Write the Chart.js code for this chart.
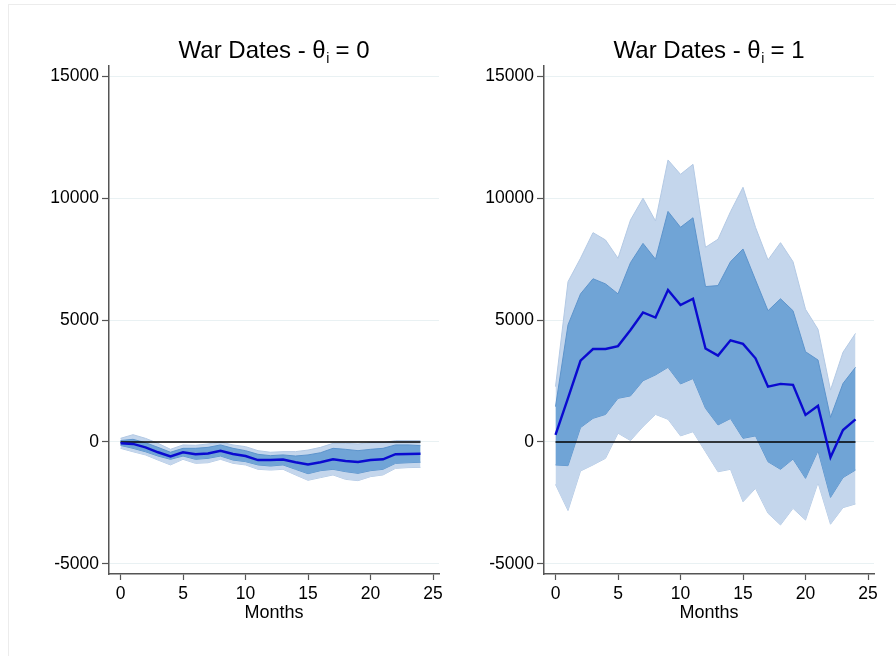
<!DOCTYPE html>
<html lang="en">
<head>
  <meta charset="UTF-8" />
  <title>War Dates</title>
  <script src="https://cdn.jsdelivr.net/npm/chart.js"></script>
  <style>
    body { margin: 0; background: #fff; width: 896px; height: 656px; overflow: hidden; position: relative; font-family: "Liberation Sans", Arial, sans-serif; }
    .frame { position: absolute; left: 8px; top: 4px; width: 900px; height: 660px; border-top: 1px solid #ececec; border-left: 1px solid #ececec; }
    canvas { position: absolute; top: 0; }
    #left { left: 0; }
    #right { left: 435px; }
  </style>
</head>
<body>
  <div class="frame"></div>
  <canvas id="left" width="448" height="656"></canvas>
  <canvas id="right" width="448" height="656"></canvas>

  <script>
    // months after the war date
    const months = [0, 1, 2, 3, 4, 5, 6, 7, 8, 9, 10, 11, 12, 13, 14, 15, 16, 17, 18, 19, 20, 21, 22, 23, 24];
    const xTicks = [0, 5, 10, 15, 20, 25];
    const yTicks = [-5000, 0, 5000, 10000, 15000];

    // theta_i = 0
    const mean0    = [-50, -80, -220, -420, -590, -420, -500, -470, -360, -490, -575, -740, -740, -720, -830, -920, -830, -710, -780, -820, -740, -710, -500, -490, -480];
    const innerHi0 = [60, 110, -30, -220, -420, -260, -260, -220, -120, -260, -355, -505, -560, -530, -575, -530, -440, -260, -300, -355, -300, -260, -120, -120, -150];
    const innerLo0 = [-140, -260, -400, -575, -710, -575, -710, -670, -575, -740, -805, -940, -985, -940, -1120, -1300, -1175, -1120, -1215, -1285, -1175, -1120, -875, -850, -830];
    const outerHi0 = [150, 300, 150, -55, -300, -120, -135, -80, 0, -120, -190, -355, -420, -395, -395, -330, -220, -55, -55, -80, -27, -27, 55, 55, 55];
    const outerLo0 = [-260, -400, -530, -740, -940, -710, -875, -850, -710, -875, -940, -1120, -1150, -1120, -1350, -1570, -1460, -1350, -1530, -1585, -1420, -1350, -1080, -1050, -1040];

    // theta_i = 1
    const mean1    = [290, 1800, 3330, 3810, 3810, 3930, 4590, 5310, 5100, 6230, 5610, 5870, 3830, 3540, 4170, 4020, 3430, 2270, 2380, 2340, 1110, 1480, -630, 490, 930];
    const innerHi1 = [1450, 4800, 6070, 6690, 6480, 6070, 7350, 8140, 7490, 9450, 8800, 9190, 6370, 6410, 7390, 7910, 6640, 5380, 5870, 5380, 3700, 3360, 1010, 2400, 3060];
    const innerLo1 = [-940, -970, 590, 970, 1130, 1790, 1890, 2510, 2750, 3060, 2380, 2600, 1380, 700, 960, 150, 250, -810, -1120, -700, -1490, -360, -2270, -1460, -1150];
    const outerHi1 = [2270, 6570, 7530, 8580, 8280, 7530, 9100, 9990, 9060, 11560, 10970, 11380, 7980, 8310, 9440, 10440, 8800, 7460, 8170, 7390, 5440, 4620, 2130, 3680, 4450];
    const outerLo1 = [-1740, -2810, -1190, -940, -670, 360, 60, 630, 1130, 930, 250, 420, -400, -1220, -1120, -2450, -1900, -2920, -3400, -2720, -3200, -1670, -3370, -2690, -2540];

    const FONT = "'Liberation Sans', Arial, sans-serif";
    Chart.defaults.font.family = FONT;
    Chart.defaults.color = "#000";

    const pts = arr => arr.map((v, i) => ({ x: months[i], y: v }));

    // title with a subscript i, drawn above the plot area
    const subTitle = {
      id: "subTitle",
      afterDraw(chart, args, opts) {
        const ctx = chart.ctx;
        const cx = (chart.chartArea.left + chart.chartArea.right) / 2;
        const y = 58;
        ctx.save();
        ctx.fillStyle = "#000";
        ctx.textBaseline = "alphabetic";
        ctx.font = "24px " + FONT;
        const w1 = ctx.measureText(opts.before).width;
        const w3 = ctx.measureText(opts.after).width;
        ctx.font = "14px " + FONT;
        const w2 = ctx.measureText(opts.sub).width;
        let x = cx - (w1 + w2 + w3) / 2;
        ctx.font = "24px " + FONT;
        ctx.fillText(opts.before, x, y);
        x += w1;
        ctx.font = "14px " + FONT;
        ctx.fillText(opts.sub, x + 0.5, y + 5);
        x += w2;
        ctx.font = "24px " + FONT;
        ctx.fillText(opts.after, x, y);
        ctx.restore();
      }
    };

    function makePanel(id, after, mean, iLo, iHi, oLo, oHi) {
      const zero = [months[0], months[months.length - 1]].map(m => ({ x: m, y: 0 }));
      return new Chart(document.getElementById(id), {
        type: "line",
        data: {
          datasets: [
            { data: pts(mean), borderColor: "#0a0ad0", borderWidth: 2.4, pointRadius: 0, fill: false, tension: 0 },
            { data: zero, borderColor: "#000", borderWidth: 1.4, pointRadius: 0, fill: false },
            { data: pts(iHi), borderColor: "#5d94cc", borderWidth: 1, pointRadius: 0, fill: "+1", backgroundColor: "#70a4d6" },
            { data: pts(iLo), borderColor: "#5d94cc", borderWidth: 1, pointRadius: 0, fill: false },
            { data: pts(oHi), borderColor: "#b3c9e4", borderWidth: 1, pointRadius: 0, fill: "+1", backgroundColor: "#c4d6ec" },
            { data: pts(oLo), borderColor: "#b3c9e4", borderWidth: 1, pointRadius: 0, fill: false }
          ]
        },
        options: {
          responsive: false,
          animation: false,
          devicePixelRatio: 1,
          layout: { padding: { left: 0, top: 66, right: 9, bottom: 0 } },
          plugins: {
            legend: { display: false },
            tooltip: { enabled: false },
            subTitle: { before: "War Dates - \u03b8", sub: "i", after: after }
          },
          scales: {
            x: {
              type: "linear",
              min: -0.92,
              max: 25.48,
              afterBuildTicks: s => { s.ticks = xTicks.map(v => ({ value: v })); },
              afterFit: s => { s.height = 82; },
              ticks: { font: { size: 17.5 }, padding: 4, color: "#000", maxRotation: 0 },
              grid: { drawOnChartArea: false, tickLength: 6, tickColor: "#555", tickWidth: 1.2 },
              border: { color: "#555", width: 1.5 },
              title: { display: true, text: "Months", font: { size: 18 }, color: "#000", padding: { top: 0, bottom: 32 } }
            },
            y: {
              min: -5410,
              max: 15410,
              afterBuildTicks: s => { s.ticks = yTicks.map(v => ({ value: v })); },
              afterFit: s => { s.width = 109; },
              ticks: { font: { size: 17.5 }, padding: 3, color: "#000", callback: v => String(v) },
              grid: { color: "#e9f1f3", lineWidth: 1, tickLength: 7, tickColor: "#555", tickWidth: 1.2 },
              border: { color: "#555", width: 1.5 }
            }
          }
        },
        plugins: [subTitle]
      });
    }

    makePanel("left", " = 0", mean0, innerLo0, innerHi0, outerLo0, outerHi0);
    makePanel("right", " = 1", mean1, innerLo1, innerHi1, outerLo1, outerHi1);
  </script>
</body>
</html>
